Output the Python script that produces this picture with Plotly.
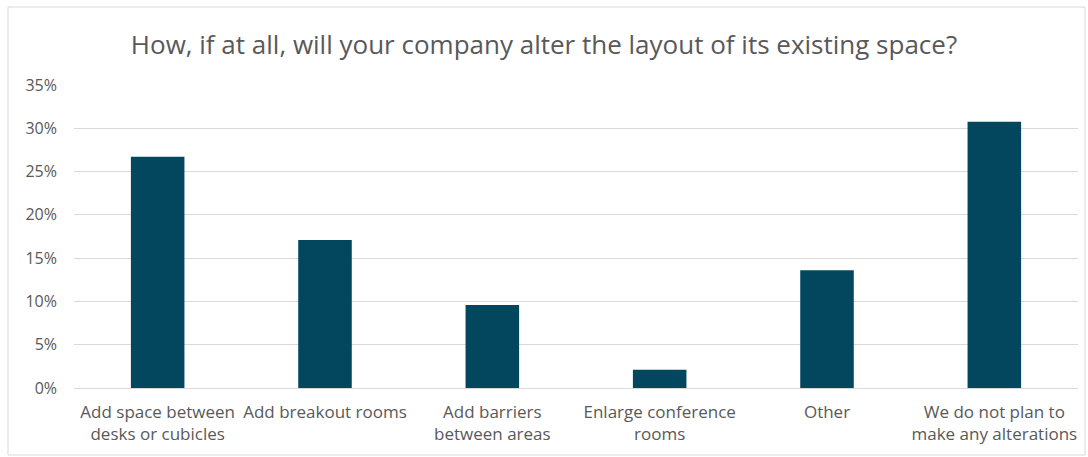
import plotly.graph_objects as go

categories = [
    "Add space between<br>desks or cubicles",
    "Add breakout rooms",
    "Add barriers<br>between areas",
    "Enlarge conference<br>rooms",
    "Other",
    "We do not plan to<br>make any alterations",
]
values = [0.267, 0.171, 0.096, 0.021, 0.136, 0.3075]
y_ticks = [0, 0.05, 0.10, 0.15, 0.20, 0.25, 0.30, 0.35]
y_tick_labels = ["0%", "5%", "10%", "15%", "20%", "25%", "30%", "35%"]

W, H = 1088, 457
FONT = "Open Sans, sans-serif"
fig = go.Figure(
    go.Bar(
        x=categories,
        y=values,
        marker=dict(color="#03475f", line=dict(width=0)),
        width=0.32,
    )
)

fig.update_layout(
    width=W,
    height=H,
    margin=dict(l=74, r=10, t=85, b=69),
    paper_bgcolor="white",
    plot_bgcolor="white",
    font=dict(family=FONT, color="#595959"),
    title=dict(
        text="How, if at all, will your company alter the layout of its existing space?",
        x=0.5,
        xanchor="center",
        y=1 - 45 / H,
        yanchor="middle",
        yref="container",
        font=dict(size=26, color="#595959", family=FONT),
    ),
    showlegend=False,
    shapes=[
        dict(
            type="rect", xref="paper", yref="paper",
            x0=-66 / 1004, x1=1 + 7 / 1004,
            y0=-67 / 303, y1=1 + 78 / 303,
            line=dict(color="#d9d9d9", width=1),
            fillcolor="rgba(0,0,0,0)",
            layer="below",
        )
    ],
)

fig.update_xaxes(
    showgrid=False,
    showline=False,
    ticks="",
    ticklabelstandoff=12,
    tickfont=dict(size=17, color="#595959"),
)
fig.update_yaxes(
    range=[0, 0.35],
    tickvals=y_ticks,
    ticktext=y_tick_labels,
    showgrid=True,
    gridcolor="#d9d9d9",
    gridwidth=1,
    zeroline=True,
    zerolinecolor="#d9d9d9",
    zerolinewidth=1,
    showline=False,
    ticks="",
    ticklabelstandoff=16,
    tickfont=dict(size=16, color="#595959"),
)

fig.write_html("out.html")
